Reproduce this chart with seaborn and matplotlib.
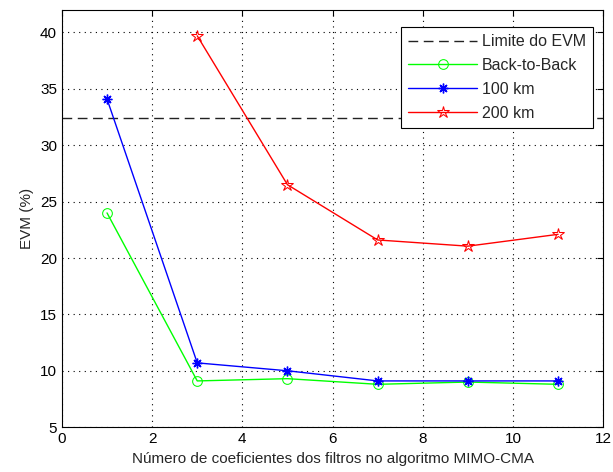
import numpy as np
import pandas as pd
import matplotlib
matplotlib.use("Agg")
import matplotlib.pyplot as plt
import seaborn as sns

coef = [1, 3, 5, 7, 9, 11]
b2b = [24.0, 9.1, 9.3, 8.8, 9.0, 8.8]
km100 = [34.1, 10.7, 10.0, 9.1, 9.1, 9.1]
coef200 = [3, 5, 7, 9, 11]
km200 = [39.7, 26.5, 21.6, 21.05, 22.1]
limite_evm = 32.4

sns.set_style("white")
plt.rcParams['font.family'] = ['Liberation Sans', 'DejaVu Sans']

fig = plt.figure(figsize=(6.13, 4.72), dpi=100)
ax = fig.add_axes([0.101, 0.095, 0.883, 0.884])

ax.axhline(limite_evm, color='#222222', ls=(0, (7, 4)), lw=1.0, label='Limite do EVM')
sns.lineplot(x=coef, y=b2b, color=(0, 1, 0), lw=1.0, marker='o', markersize=7,
             markerfacecolor='none', markeredgecolor=(0, 1, 0), label='Back-to-Back', ax=ax)
sns.lineplot(x=coef, y=km100, color=(0, 0, 1), lw=1.0, marker=(8, 2, 0), markersize=7,
             markeredgecolor=(0, 0, 1), markeredgewidth=1.0, label='100 km', ax=ax)
sns.lineplot(x=coef200, y=km200, color=(1, 0, 0), lw=1.0, marker='*', markersize=9,
             markerfacecolor='none', markeredgecolor=(1, 0, 0), label='200 km', ax=ax)

ax.set_xlim(0, 12)
ax.set_ylim(5, 42)
ax.set_xticks(range(0, 13, 2))
ax.set_yticks(range(5, 41, 5))
ax.grid(True, color='black', ls=(0, (1, 4)), lw=0.8)
ax.tick_params(direction='in', top=True, right=True, length=4, labelsize=11,
               colors='black', width=0.8)
for s in ax.spines.values():
    s.set_color('black')
    s.set_linewidth(0.8)

ax.set_xlabel('Número de coeficientes dos filtros no algoritmo MIMO-CMA', fontsize=11)
ax.set_ylabel('EVM (%)', fontsize=11)

leg = ax.legend(loc='upper right', bbox_to_anchor=(0.996, 0.978), fancybox=False,
                framealpha=1, edgecolor='black', fontsize=11.5, handlelength=4.3,
                borderpad=0.45, labelspacing=0.55, handletextpad=0.3)
leg.get_frame().set_linewidth(0.8)

fig.savefig('out.png', dpi=100)
